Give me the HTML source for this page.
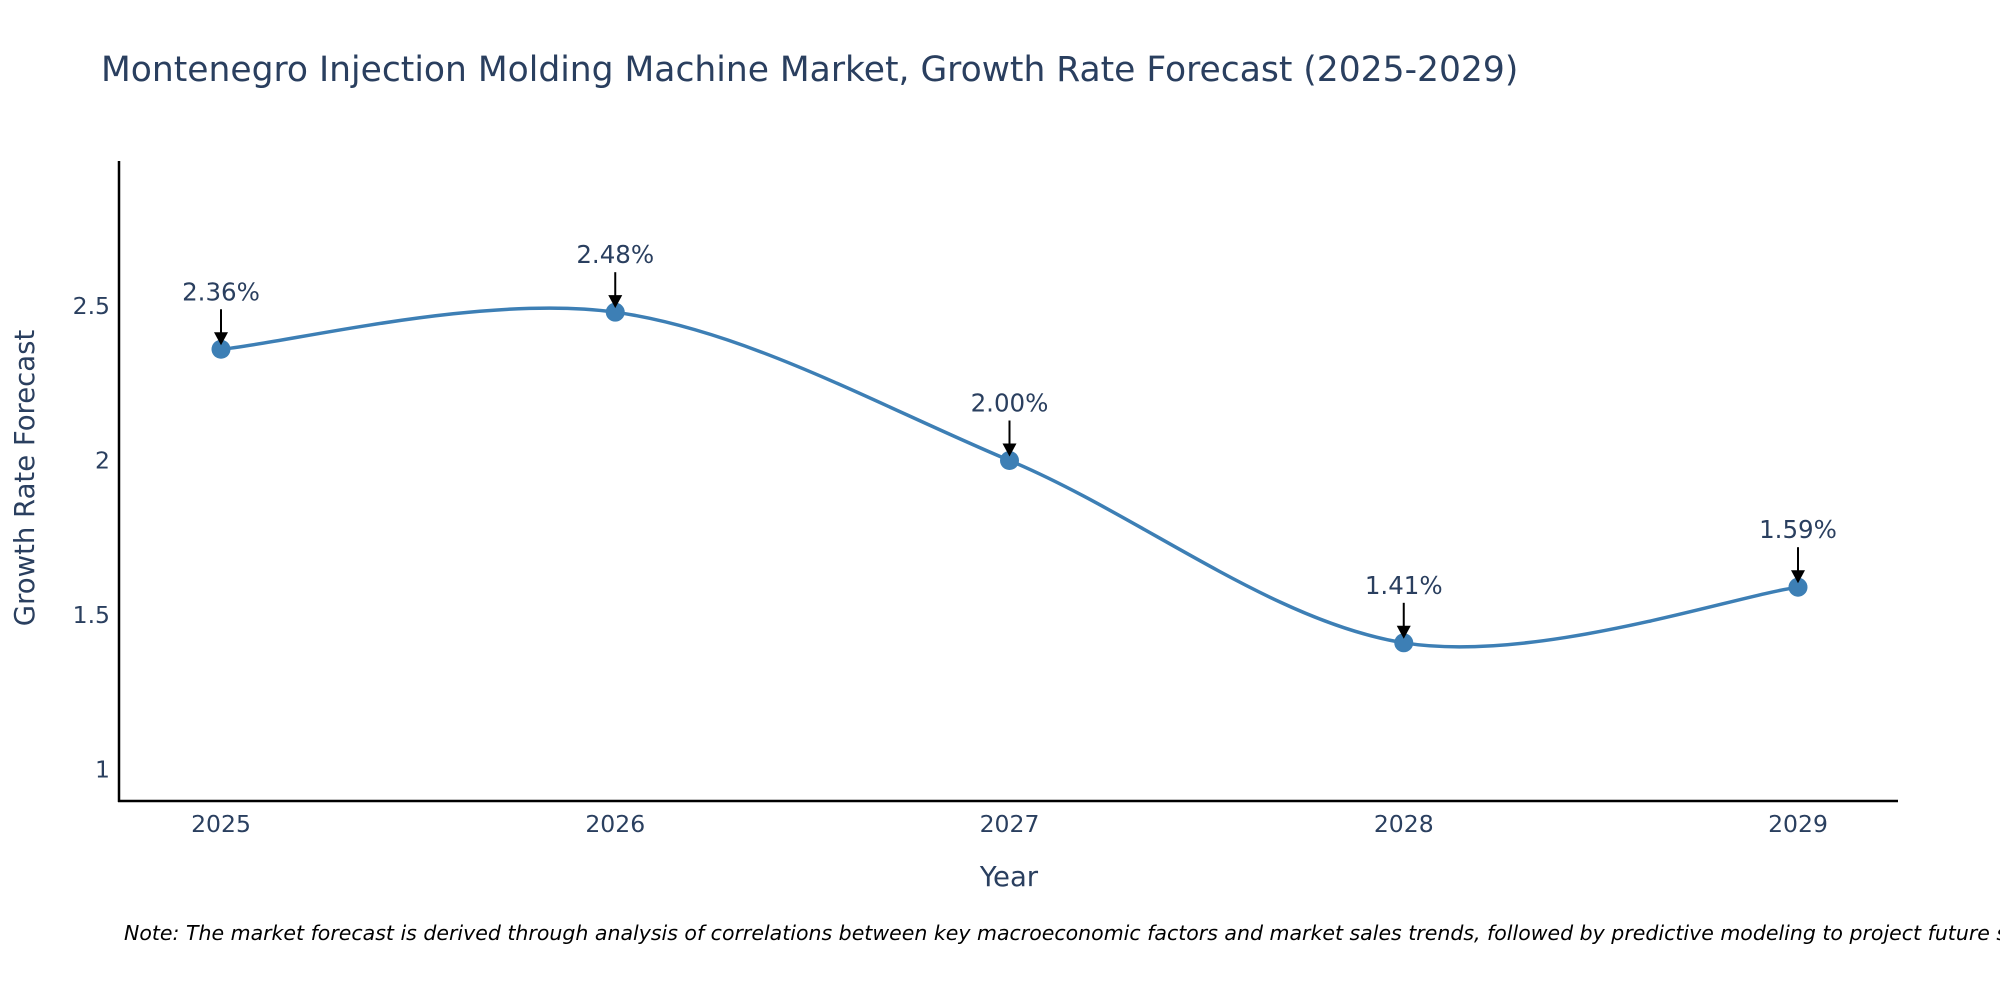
<!DOCTYPE html>
<html><head><meta charset="utf-8"><style>
body{margin:0;background:#fff;}
svg{display:block;font-family:"DejaVu Sans","Liberation Sans",sans-serif;}
</style></head><body>
<svg id="chart" width="2000" height="1000" viewBox="0 0 2000 1000">
<text x="101" y="81" font-size="34.5" fill="#2a3f5f">Montenegro Injection Molding Machine Market, Growth Rate Forecast (2025-2029)</text>
<g id="yticks"></g><g id="xticks"></g>
<line x1="119" y1="161" x2="119" y2="802" stroke="#000" stroke-width="2.5"/>
<line x1="118" y1="801" x2="1898" y2="801" stroke="#000" stroke-width="2.5"/>
<path id="line" fill="none" stroke="#3d7fb5" stroke-width="3.5"/>
<g id="marks"></g>
<text x="1009" y="886" font-size="27.5" fill="#2a3f5f" text-anchor="middle">Year</text>
<text transform="translate(34,478) rotate(-90)" font-size="27.5" fill="#2a3f5f" text-anchor="middle">Growth Rate Forecast</text>
<text x="124" y="940" font-size="20.5" font-style="italic" fill="#000">Note: The market forecast is derived through analysis of correlations between key macroeconomic factors and market sales trends, followed by predictive modeling to project future sales.</text>
</svg>
<script>
const categories=["2025","2026","2027","2028","2029"];
const values=[2.36,2.48,2.00,1.41,1.59];
const labels=["2.36%","2.48%","2.00%","1.41%","1.59%"];
const yTicks=[1,1.5,2,2.5];
const yTickLabels=["1","1.5","2","2.5"];
const NS="http://www.w3.org/2000/svg";
function xs(i){return 221+i*394.25;}
function ys(v){return 460.5-(v-2)*309;}
function mk(t,a,p){const e=document.createElementNS(NS,t);for(const k in a)e.setAttribute(k,a[k]);p.appendChild(e);return e;}
const yt=document.getElementById('yticks');
yTicks.forEach((v,i)=>{const t=mk('text',{x:110,y:ys(v)+8,'font-size':23.5,fill:'#2a3f5f','text-anchor':'end'},yt);t.textContent=yTickLabels[i];

});
const xt=document.getElementById('xticks');
categories.forEach((c,i)=>{const t=mk('text',{x:xs(i),y:832,'font-size':23.5,fill:'#2a3f5f','text-anchor':'middle'},xt);t.textContent=c;

});
const pts=values.map((v,i)=>[xs(i),ys(v)]);
let d=`M${pts[0][0]},${pts[0][1]}`;
for(let i=0;i<pts.length-1;i++){const p0=pts[Math.max(0,i-1)],p1=pts[i],p2=pts[i+1],p3=pts[Math.min(pts.length-1,i+2)];
const c1=[p1[0]+(p2[0]-p0[0])/6,p1[1]+(p2[1]-p0[1])/6],c2=[p2[0]-(p3[0]-p1[0])/6,p2[1]-(p3[1]-p1[1])/6];
d+=` C${c1[0]},${c1[1]} ${c2[0]},${c2[1]} ${p2[0]},${p2[1]}`;}
document.getElementById('line').setAttribute('d',d);
const g=document.getElementById('marks');
pts.forEach((p,i)=>{
const c=mk('circle',{cx:p[0],cy:p[1],r:9.5,fill:'#3d7fb5'},g);


const l=mk('line',{x1:p[0],y1:p[1]-40,x2:p[0],y2:p[1]-14,stroke:'#000','stroke-width':2},g);


const h=mk('polygon',{points:`${p[0]-7},${p[1]-17} ${p[0]+7},${p[1]-17} ${p[0]},${p[1]-4}`,fill:'#000'},g);


const t=mk('text',{x:p[0],y:p[1]-49,'font-size':24.5,fill:'#2a3f5f','text-anchor':'middle'},g);t.textContent=labels[i];


});
</script>
</body></html>
